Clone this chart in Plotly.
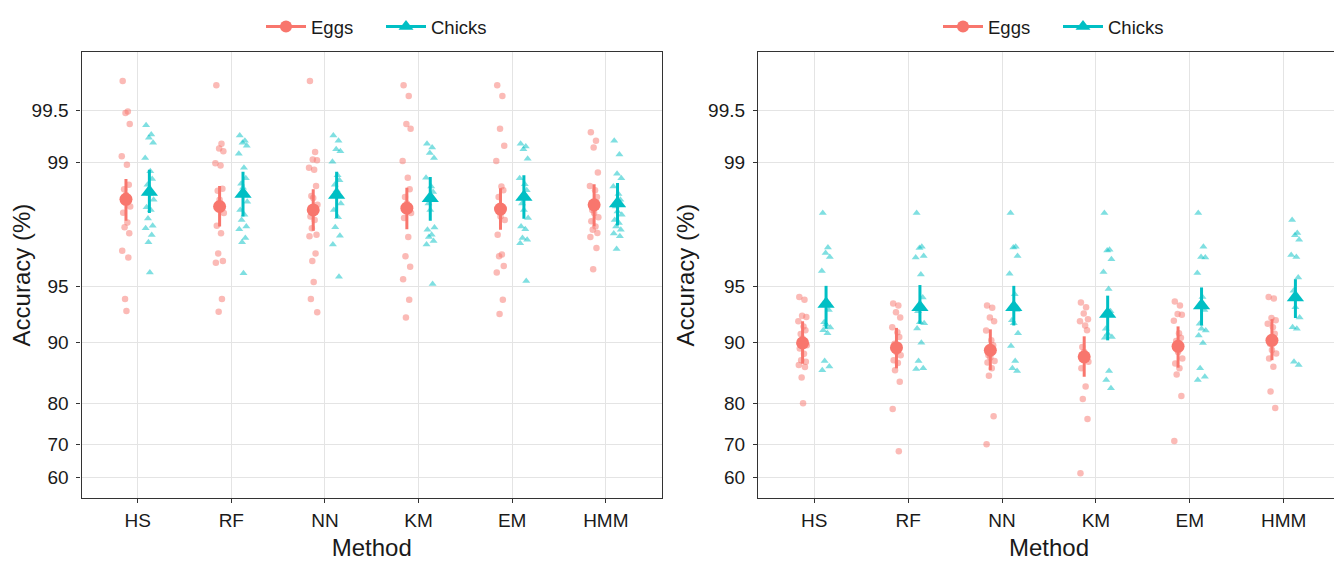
import numpy as np
import plotly.graph_objects as go

methods = ["HS", "RF", "NN", "KM", "EM", "HMM"]
y_tick_values = [60, 70, 80, 90, 95, 99, 99.5]
y_tick_labels = ["60", "70", "80", "90", "95", "99", "99.5"]

# ---- Left panel: individual accuracies (%) ----
left_eggs = [
    [99.66, 99.49, 99.48, 99.40, 99.08, 98.97, 98.66, 98.58, 98.47, 98.22, 98.07, 97.81, 97.67, 97.48, 96.84, 96.55, 94.15, 93.22],
    [99.64, 99.22, 99.17, 99.14, 98.99, 98.96, 98.59, 98.55, 98.37, 98.06, 97.71, 97.48, 96.73, 96.39, 96.31, 94.15, 93.16],
    [99.66, 99.13, 99.04, 99.03, 98.93, 98.90, 98.64, 98.45, 98.41, 98.26, 97.97, 97.88, 97.64, 97.43, 97.38, 96.73, 96.39, 95.29, 94.15, 93.10],
    [99.64, 99.585, 99.40, 99.36, 99.02, 98.78, 98.58, 98.43, 98.29, 98.06, 97.93, 97.35, 96.61, 96.12, 95.45, 94.10, 92.66],
    [99.64, 99.585, 99.36, 99.20, 99.02, 98.63, 98.56, 98.43, 97.97, 97.88, 97.43, 96.68, 96.61, 96.16, 95.82, 94.10, 92.97],
    [99.33, 99.25, 99.18, 98.86, 98.64, 98.56, 98.43, 98.14, 98.06, 97.95, 97.84, 97.69, 97.59, 97.49, 97.35, 96.95, 95.99],
]
left_chicks = [
    [99.39, 99.31, 99.28, 99.23, 99.06, 98.88, 98.76, 98.66, 98.49, 98.37, 98.20, 98.14, 97.92, 97.71, 97.64, 97.42, 97.17, 95.82],
    [99.30, 99.25, 99.23, 99.20, 99.11, 98.93, 98.77, 98.68, 98.61, 98.33, 98.14, 98.02, 97.88, 97.69, 97.61, 97.32, 97.17, 95.78],
    [99.30, 99.25, 99.16, 99.14, 99.01, 98.82, 98.74, 98.66, 98.56, 98.29, 98.14, 97.95, 97.67, 97.40, 97.08, 95.59],
    [99.22, 99.18, 99.12, 99.06, 98.78, 98.63, 98.53, 98.29, 98.14, 97.66, 97.59, 97.43, 97.35, 97.21, 97.08, 95.16],
    [99.22, 99.19, 99.16, 99.05, 98.77, 98.67, 98.56, 98.29, 98.14, 97.93, 97.69, 97.61, 97.32, 97.26, 97.13, 95.35],
    [99.25, 99.10, 98.84, 98.77, 98.63, 98.49, 98.37, 98.22, 98.10, 98.02, 97.88, 97.79, 97.69, 97.59, 97.47, 97.38, 96.91],
]
left_eggs_mean = [98.38, 98.22, 98.14, 98.18, 98.16, 98.26]
left_eggs_lo = [97.86, 97.69, 97.56, 97.61, 97.59, 97.69]
left_eggs_hi = [98.76, 98.64, 98.58, 98.61, 98.60, 98.67]
left_chicks_mean = [98.53, 98.49, 98.47, 98.40, 98.43, 98.29]
left_chicks_lo = [98.06, 97.97, 97.93, 97.86, 97.91, 97.72]
left_chicks_hi = [98.90, 98.87, 98.87, 98.79, 98.82, 98.69]

# ---- Right panel: individual accuracies (%) ----
right_eggs = [
    [94.3, 94.1, 92.8, 92.7, 92.3, 91.8, 91.4, 91.0, 90.5, 89.7, 89.3, 88.6, 87.7, 87.5, 87.0, 86.7, 85.0, 80.1],
    [93.83, 93.66, 93.1, 92.66, 91.72, 91.2, 90.67, 89.9, 88.85, 88.4, 87.72, 87.3, 86.22, 84.29, 78.85, 67.98],
    [93.66, 93.48, 92.66, 92.3, 91.39, 90.29, 89.7, 88.4, 88.1, 87.6, 87.4, 86.5, 85.3, 77.2, 70.0],
    [93.9, 93.53, 93.0, 92.5, 92.3, 91.9, 91.4, 89.5, 88.85, 87.5, 86.5, 83.4, 80.97, 76.55, 61.37],
    [93.98, 93.66, 92.97, 92.9, 92.36, 91.1, 90.6, 90.2, 88.85, 87.95, 87.24, 86.5, 85.5, 81.6, 70.87],
    [94.3, 94.2, 92.6, 92.4, 92.06, 91.72, 91.03, 89.9, 89.1, 88.64, 87.95, 86.74, 82.46, 79.07],
]
right_chicks = [
    [98.06, 96.97, 96.75, 96.57, 95.9, 94.0, 93.3, 92.2, 92.0, 91.7, 91.4, 91.1, 87.6, 86.8, 86.2],
    [98.06, 97.0, 96.95, 96.62, 96.55, 95.72, 94.27, 93.2, 92.2, 92.1, 91.6, 90.0, 87.6, 86.5, 86.4],
    [98.06, 97.0, 96.97, 96.62, 95.76, 94.5, 93.3, 92.4, 92.1, 91.1, 89.6, 87.6, 86.5, 86.1],
    [98.06, 96.88, 96.85, 96.47, 95.85, 94.85, 93.2, 91.56, 91.03, 90.67, 90.6, 86.1, 84.6, 83.1],
    [98.06, 97.0, 96.57, 96.55, 95.8, 94.3, 93.3, 92.06, 91.56, 91.39, 90.85, 89.98, 86.5, 85.14, 84.6],
    [97.88, 97.49, 97.41, 97.26, 96.66, 96.57, 95.55, 94.73, 93.53, 92.66, 91.72, 91.56, 87.48, 87.0],
]
right_eggs_mean = [89.98, 89.4, 89.07, 88.19, 89.57, 90.29]
right_eggs_lo = [87.2, 86.5, 86.22, 85.14, 86.6, 87.72]
right_eggs_hi = [92.3, 91.65, 91.5, 90.75, 91.8, 92.5]
right_chicks_mean = [93.78, 93.53, 93.53, 92.97, 93.66, 94.27]
right_chicks_lo = [91.56, 92.06, 91.89, 90.29, 91.89, 92.6]
right_chicks_hi = [95.05, 95.1, 95.05, 94.4, 94.95, 95.45]

# ---- styling ----
EGG_COL = "#F8766D"
CHK_COL = "#00BFC4"
FONT = "Liberation Sans, Arial, sans-serif"
TXT = "#1a1a1a"
GRID = "#E4E4E4"
PAGE_OFF = 8                     # default page margin around the figure
W, H = 1342 - PAGE_OFF, 561 - PAGE_OFF
DODGE = 0.125
JIT_W = 0.05
JIT = [-0.7, 0.4, -0.1, 0.8, -0.9, 0.2, 0.6, -0.4, 0.0, 0.9,
       -0.6, 0.3, -0.3, 0.7, -0.8, 0.5, -0.2, 0.1, -0.5, 0.85]


def logit(p):
    p = np.asarray(p, dtype=float) / 100.0
    return np.log(p / (1 - p))


fig = go.Figure()


def add_panel(ax, eggs, chicks, em, elo, ehi, cm, clo, chi, legend_name):
    xa, ya = ("x", "y") if ax == 1 else ("x2", "y2")
    for vals, dodge, col, sym, msize in [
        (eggs, -DODGE, EGG_COL, "circle", 6.5),
        (chicks, DODGE, CHK_COL, "triangle-up", 7),
    ]:
        xs, ys = [], []
        for i, grp in enumerate(vals):
            for j, v in enumerate(grp):
                xs.append(i + dodge + JIT[j % len(JIT)] * JIT_W)
                ys.append(float(logit(v)))
        fig.add_trace(go.Scatter(
            x=xs, y=ys, mode="markers", xaxis=xa, yaxis=ya,
            marker=dict(symbol=sym, size=msize, color=col, opacity=0.5,
                        line=dict(width=0)),
            showlegend=False, hoverinfo="skip"))
    for m, lo, hi, dodge, col, sym, msize, name in [
        (em, elo, ehi, -DODGE, EGG_COL, "circle", 13, "Eggs"),
        (cm, clo, chi, DODGE, CHK_COL, "triangle-up", 15, "Chicks"),
    ]:
        lm, ll, lh = logit(m), logit(lo), logit(hi)
        fig.add_trace(go.Scatter(
            x=[i + dodge for i in range(len(methods))], y=lm, mode="markers",
            xaxis=xa, yaxis=ya,
            marker=dict(symbol=sym, size=msize, color=col, line=dict(width=0)),
            error_y=dict(type="data", symmetric=False, array=lh - lm,
                         arrayminus=lm - ll, color=col, thickness=3, width=0),
            showlegend=False, hoverinfo="skip"))
        fig.add_trace(go.Scatter(
            x=[None], y=[None], mode="lines+markers", name=name,
            xaxis=xa, yaxis=ya, legend=legend_name,
            line=dict(color=col, width=3),
            marker=dict(symbol=sym, size=12 if sym == "circle" else 13, color=col)))


add_panel(1, left_eggs, left_chicks, left_eggs_mean, left_eggs_lo, left_eggs_hi,
          left_chicks_mean, left_chicks_lo, left_chicks_hi, "legend")
add_panel(2, right_eggs, right_chicks, right_eggs_mean, right_eggs_lo, right_eggs_hi,
          right_chicks_mean, right_chicks_lo, right_chicks_hi, "legend2")

# target page-pixel geometry, converted to figure coordinates
top_px, bot_px = 47.7 - PAGE_OFF, 497.3 - PAGE_OFF
ydom = [1 - bot_px / H, 1 - top_px / H]
panels = [(81.5 - PAGE_OFF, 662.0 - PAGE_OFF), (758.0 - PAGE_OFF, 1340.0 - PAGE_OFF)]

common_x = dict(
    range=[-0.6, 5.6], tickmode="array", tickvals=list(range(len(methods))),
    ticktext=methods, showgrid=True, gridcolor=GRID, gridwidth=1,
    zeroline=False, showline=True, linecolor="#333333", linewidth=1.3,
    mirror=True, ticks="outside", ticklen=4, tickcolor="#333333", tickwidth=1,
    tickfont=dict(size=19, color=TXT, family=FONT),
    title=dict(text="Method", font=dict(size=24, color=TXT, family=FONT), standoff=14),
    ticklabelstandoff=1,
)
common_y = dict(
    range=[0.134, 6.062], tickmode="array", tickvals=list(logit(y_tick_values)),
    ticktext=y_tick_labels, showgrid=True, gridcolor=GRID, gridwidth=1,
    zeroline=False, showline=True, linecolor="#333333", linewidth=1.3,
    mirror=True, ticks="outside", ticklen=4, tickcolor="#333333", tickwidth=1,
    tickfont=dict(size=19, color=TXT, family=FONT),
    title=dict(text="Accuracy (%)", font=dict(size=24, color=TXT, family=FONT), standoff=6),
    ticklabelstandoff=4,
)

legend_common = dict(
    orientation="h", yanchor="middle", xanchor="center", y=1 - (22 - PAGE_OFF) / H,
    font=dict(size=18.5, color=TXT, family=FONT), bgcolor="rgba(0,0,0,0)",
    itemwidth=40, entrywidth=65, entrywidthmode="pixels",
    itemclick=False, itemdoubleclick=False,
)

fig.update_layout(
    width=W, height=H, margin=dict(l=0, r=0, t=0, b=0),
    paper_bgcolor="white", plot_bgcolor="white",
    font=dict(family=FONT, color=TXT),
    xaxis=dict(domain=[panels[0][0] / W, panels[0][1] / W], anchor="y", **common_x),
    yaxis=dict(domain=ydom, anchor="x", **common_y),
    xaxis2=dict(domain=[panels[1][0] / W, panels[1][1] / W], anchor="y2", **common_x),
    yaxis2=dict(domain=ydom, anchor="x2", **common_y),
    legend=dict(x=(381 - PAGE_OFF) / W, **legend_common),
    legend2=dict(x=(1058 - PAGE_OFF) / W, **legend_common),
)

fig.write_html("out.html")
